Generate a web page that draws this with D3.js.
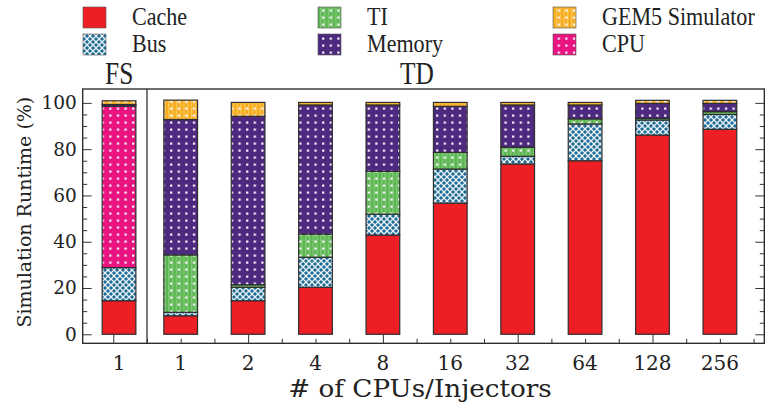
<!DOCTYPE html>
<html><head><meta charset="utf-8">
<script src="https://cdn.jsdelivr.net/npm/d3@7"></script>
<style>html,body{margin:0;padding:0;background:#fff;}svg{display:block;}</style>
</head><body>
<script>
// ---- data ----
const series = ["Cache", "Bus", "TI", "CPU", "Memory", "GEM5 Simulator"];
const legendOrder = ["Cache", "Bus", "TI", "Memory", "GEM5 Simulator", "CPU"];
const fsCategories = ["1"];
const tdCategories = ["1", "2", "4", "8", "16", "32", "64", "128", "256"];
// values per series (percent) for FS bar
const fsCache = [14.5], fsBus = [14.3], fsTI = [0], fsCPU = [69.8], fsMemory = [0.7], fsGEM5 = [1.6];
// values per series for TD bars
const tdCache  = [8.0, 14.5, 20.3, 42.9, 56.7, 73.6, 75.0, 86.1, 88.6];
const tdBus    = [1.5, 5.8, 13.0, 9.0, 14.7, 3.3, 15.9, 6.5, 6.4];
const tdTI     = [24.8, 1.1, 10.0, 18.5, 7.2, 3.9, 2.2, 0.7, 1.2];
const tdCPU    = [0, 0, 0, 0, 0, 0, 0, 0, 0];
const tdMemory = [58.5, 72.8, 55.8, 28.7, 19.9, 18.3, 6.0, 6.5, 3.6];
const tdGEM5   = [8.4, 6.0, 1.1, 1.1, 1.7, 1.1, 1.1, 1.3, 1.3];
const yTicks = [0, 20, 40, 60, 80, 100];

// ---- layout ----
const W = 765, H = 407;
const L = 82.7, R = 764.3, T = 89, B = 343.3;
const svg = d3.select("body").append("svg").attr("width", W).attr("height", H);

const colors = {"Cache":"#ee1f24","Bus":"#1f6b94","TI":"#5db552","CPU":"#ea1480","Memory":"#4d2a7f","GEM5 Simulator":"#f8aa1c"};
const defs = svg.append("defs");
function dotPattern(id, bg, stripe) {
  const p = defs.append("pattern").attr("id", id).attr("patternUnits","userSpaceOnUse")
    .attr("width", 7.6).attr("height", 7);
  p.append("rect").attr("width", 7.6).attr("height", 7).attr("fill", bg);
  if (stripe) {
    p.append("rect").attr("x", 1.2).attr("width", 1).attr("height", 7).attr("fill", stripe);
    p.append("rect").attr("x", 5.0).attr("width", 1).attr("height", 7).attr("fill", stripe);
  }
  p.append("rect").attr("x", 2.9).attr("y", 2.5).attr("width", 2.2).attr("height", 2.2).attr("fill", "#f8f4fc");
}
dotPattern("p-Memory", colors.Memory);
dotPattern("p-CPU", colors.CPU);
dotPattern("p-TI", colors.TI, "#8fd487");
dotPattern("p-GEM5", colors["GEM5 Simulator"], "#fdd571");
(function(){
  const p = defs.append("pattern").attr("id","p-Bus").attr("patternUnits","userSpaceOnUse").attr("width",6).attr("height",6);
  p.append("rect").attr("width",6).attr("height",6).attr("fill",colors.Bus);
  p.append("path").attr("d","M0,0L6,6M6,0L0,6").attr("stroke","#e8f1f7").attr("stroke-width",1.3);
  p.append("circle").attr("cx",3).attr("cy",0).attr("r",0.9).attr("fill",colors.Bus);
})();
const fillOf = {"Cache": colors.Cache, "Bus":"url(#p-Bus)", "TI":"url(#p-TI)", "CPU":"url(#p-CPU)", "Memory":"url(#p-Memory)", "GEM5 Simulator":"url(#p-GEM5)"};

// scales
const y = d3.scaleLinear().domain([-3.9, 106]).range([B, T]);
const xLin = d3.scaleLinear().domain([-0.908, 19.318]).range([L, R]);
const xTD = d3.scaleBand().domain(tdCategories).range([xLin(1), xLin(19)]).paddingInner(0.5).paddingOuter(0.25);
const xFS = d3.scaleBand().domain(fsCategories).range([xLin(-0.83), xLin(1.17)]).paddingInner(0.5).paddingOuter(0.25);

function buildRows(cats, arrs) {
  return cats.map((c, i) => {
    const r = {cat: c};
    series.forEach((s, j) => r[s] = arrs[j][i]);
    return r;
  });
}
const fsRows = buildRows(fsCategories, [fsCache, fsBus, fsTI, fsCPU, fsMemory, fsGEM5]);
const tdRows = buildRows(tdCategories, [tdCache, tdBus, tdTI, tdCPU, tdMemory, tdGEM5]);
const stack = d3.stack().keys(series);

function drawBars(rows, xs) {
  const st = stack(rows);
  const g = svg.append("g");
  st.forEach(layer => {
    g.selectAll(null).data(layer.filter(d => d[1] - d[0] > 0)).enter().append("rect")
      .attr("x", d => xs(d.data.cat))
      .attr("width", xs.bandwidth())
      .attr("y", d => y(d[1]))
      .attr("height", d => y(d[0]) - y(d[1]))
      .attr("fill", fillOf[layer.key])
      .attr("stroke", "#2e2e2e").attr("stroke-width", 1.2);
  });
}
drawBars(fsRows, xFS);
drawBars(tdRows, xTD);

// frame
svg.append("rect").attr("x", L).attr("y", T).attr("width", R - L).attr("height", B - T)
  .attr("fill", "none").attr("stroke", "#222").attr("stroke-width", 1.3);
svg.append("line").attr("x1", xLin(1)).attr("x2", xLin(1)).attr("y1", T).attr("y2", B)
  .attr("stroke", "#222").attr("stroke-width", 1.2);

// axes
function styleAxis(g) { g.select(".domain").remove(); g.selectAll("line").attr("stroke", "#333").attr("stroke-width", 1); }
const minorY = d3.range(0, 101, 5).filter(v => v % 20 !== 0);
svg.append("g").attr("transform", `translate(${L},0)`)
  .call(d3.axisLeft(y).tickValues(yTicks).tickSize(-9).tickPadding(6).tickFormat(d3.format("d")))
  .call(styleAxis)
  .call(g => g.selectAll("text").attr("font-family", "DejaVu Serif").attr("font-size", 18.5).attr("fill", "#222"));
svg.append("g").attr("transform", `translate(${L},0)`)
  .call(d3.axisLeft(y).tickValues(minorY).tickSize(-4.5).tickFormat(""))
  .call(styleAxis);
svg.append("g").attr("transform", `translate(${R},0)`)
  .call(d3.axisRight(y).tickValues(yTicks).tickSize(-9).tickFormat(""))
  .call(styleAxis);
svg.append("g").attr("transform", `translate(${R},0)`)
  .call(d3.axisRight(y).tickValues(minorY).tickSize(-4.5).tickFormat(""))
  .call(styleAxis);
const xt = d3.range(0, 20);
svg.append("g").attr("transform", `translate(0,${B})`)
  .call(d3.axisBottom(xLin).tickValues(xt.filter(k => k % 4 === 0)).tickSize(-9).tickFormat(""))
  .call(styleAxis);
svg.append("g").attr("transform", `translate(0,${B})`)
  .call(d3.axisBottom(xLin).tickValues(xt.filter(k => k % 4 !== 0)).tickSize(-4.5).tickFormat(""))
  .call(styleAxis);

// x category labels
const labG = svg.append("g").attr("font-family", "DejaVu Serif").attr("font-size", 20).attr("fill", "#222").attr("text-anchor", "middle");
fsCategories.forEach(c => labG.append("text").attr("x", xFS(c) + xFS.bandwidth()/2).attr("y", 370).text(c));
tdCategories.forEach(c => labG.append("text").attr("x", xTD(c) + xTD.bandwidth()/2).attr("y", 370).text(c));

// axis titles
svg.append("text").attr("transform", `translate(420,397) scale(1.07,1)`).attr("text-anchor", "middle")
  .attr("font-family", "DejaVu Serif").attr("font-size", 24.5).attr("fill", "#222").text("# of CPUs/Injectors");
svg.append("text").attr("transform", `translate(31,${(T + B)/2 - 4}) rotate(-90)`).attr("text-anchor", "middle")
  .attr("font-family", "DejaVu Serif").attr("font-size", 19).attr("fill", "#222").text("Simulation Runtime (%)");

// condensed serif text helper
function cText(x, yb, size, sx, txt) {
  svg.append("text").attr("transform", `translate(${x},${yb}) scale(${sx},1)`)
    .attr("font-family", "Liberation Serif").attr("font-size", size).attr("fill", "#222").text(txt);
}
cText(105, 84, 31, 0.82, "FS");
cText(400, 84, 31, 0.82, "TD");

// legend
const legX = [83, 318, 553], legY = [7, 34];
legendOrder.forEach((s, i) => {
  const col = Math.floor(i / 2), row = i % 2;
  svg.append("rect").attr("x", legX[col]).attr("y", legY[row]).attr("width", 23).attr("height", 21)
    .attr("fill", fillOf[s]).attr("stroke", "#555").attr("stroke-width", 0.6);
  cText(legX[col] + 49, legY[row] + 18, 26, 0.85, s);
});
</script>
</body></html>
